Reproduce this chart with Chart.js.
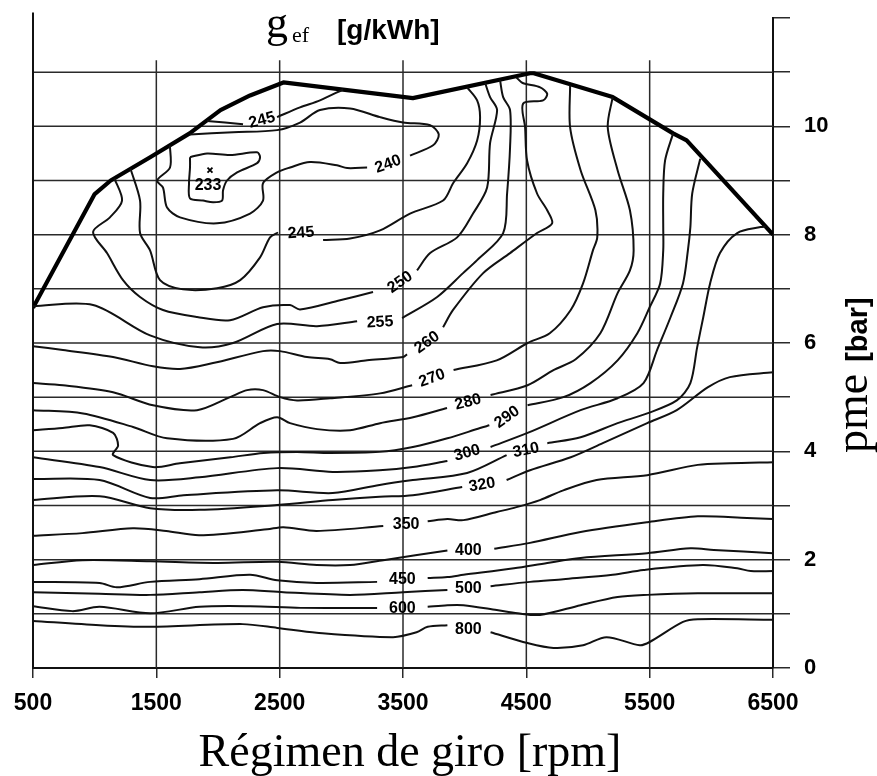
<!DOCTYPE html>
<html><head><meta charset="utf-8">
<script src="https://cdn.jsdelivr.net/npm/chart.js@4.4.1/dist/chart.umd.min.js"></script>
<style>html,body{margin:0;padding:0;background:#fff}#wrap{width:877px;height:776px;position:relative}</style>
</head><body><div id="wrap"><canvas id="c" width="877" height="776"></canvas></div>
<script>
// ---- axes ----
const rpmTicks = [500,1500,2500,3500,4500,5500,6500];
const pmeGrid = [1,2,3,4,5,6,7,8,9,10,11];
const pmeLabels = [0,2,4,6,8,10];

// ---- full-load curve (pme max) ----
const fullLoad = [[500,6.65],[1000,8.75],[1130,9.0],[1450,9.43],[1770,9.87],[2020,10.3],[2260,10.57],[2530,10.81],[3580,10.52],[4530,10.98],[4560,10.98],[5200,10.54],[5690,9.87],[5800,9.74],[6500,8.0]];

// ---- iso-consumption contours [rpm, pme], null = gap for label ----
const c800 = [[500,0.87],[1040,0.79],[1450,0.76],[2200,0.81],[2480,0.74],[2800,0.65],[3420,0.57],[3610,0.66],[3700,0.76],[3860,0.79],null,[4210,0.66],[4510,0.46],[4720,0.37],[4960,0.42],[5150,0.57],[5420,0.42],[5500,0.48],[5770,0.85],[5890,0.90],[6500,0.89]];
const c600 = [[500,1.14],[820,1.05],[1040,1.13],[1450,1.01],[1850,1.13],[2260,1.14],[2670,1.11],[3290,1.11],null,[3700,1.13],[3860,1.16],[3990,1.16],[4260,1.07],[4430,1.01],[4610,0.98],[4940,1.16],[5240,1.31],[5480,1.35],[5890,1.38],[6500,1.38]];
const c500 = [[500,1.40],[1040,1.37],[1450,1.35],[1850,1.40],[2200,1.44],[2530,1.40],[3070,1.35],[3500,1.40],[3860,1.44],null,[4210,1.51],[4530,1.59],[4800,1.64],[5200,1.72],[5450,1.81],[5930,1.90],[6210,1.84],[6320,1.79],[6500,1.79]];
const c450 = [[500,1.59],[1040,1.57],[1180,1.49],[1450,1.59],[1850,1.64],[2260,1.72],[2480,1.62],[2800,1.57],[3290,1.59],null,[3700,1.66],[3860,1.68],[3990,1.72],[4400,1.84],[4670,1.94],[4940,2.03],[5480,2.12],[5830,2.21],[6020,2.18],[6500,2.12]];
const c400 = [[500,1.90],[900,1.99],[1450,1.97],[1990,1.94],[2480,1.96],[2800,1.90],[3070,1.90],[3340,1.99],[3860,2.17],null,[4240,2.20],[4530,2.31],[4940,2.51],[5480,2.69],[5890,2.80],[6290,2.77],[6500,2.75]];
const c350 = [[500,2.44],[900,2.49],[1310,2.58],[1580,2.53],[1850,2.45],[2400,2.56],[2530,2.60],[2800,2.53],[3340,2.62],null,[3700,2.71],[3860,2.75],[3990,2.73],[4260,2.88],[4420,2.97],[4610,3.10],[4800,3.28],[5070,3.47],[5480,3.56],[5890,3.75],[6150,3.78],[6500,3.80]];
const c320 = [[500,3.10],[1040,3.17],[1450,2.95],[1850,2.92],[2480,3.01],[2930,3.10],[3310,3.16],[3580,3.19],[3980,3.34],null,[4340,3.47],[4530,3.65],[4860,3.89],[5120,4.15],[5480,4.52],[5720,4.76],[5970,5.18],[6150,5.37],[6500,5.46]];
const c310 = [[500,3.49],[1040,3.47],[1450,3.14],[1720,3.19],[2480,3.28],[2930,3.23],[3310,3.38],[3580,3.47],[4020,3.60],[4340,3.93],null,[4670,4.15],[4940,4.26],[5240,4.52],[5480,4.70],[5720,4.94],[5830,5.26],[5885,5.92],[5935,6.48],[5990,7.10],[6070,7.66],[6210,8.03],[6400,8.14],[6440,8.15]];
const c300 = [[500,3.89],[1040,3.71],[1450,3.47],[1850,3.52],[2480,3.69],[2930,3.62],[3310,3.65],[3580,3.71],[3860,3.82],null,[4210,4.08],[4510,4.34],[4940,4.76],[5240,4.98],[5450,5.26],[5560,5.87],[5670,6.48],[5770,7.10],[5810,7.71],[5830,8.14],[5845,8.76],[5910,9.40]];
const c290 = [[500,4.39],[740,4.43],[960,4.48],[1150,4.34],[1190,4.11],[1150,3.93],[1470,3.71],[1690,3.78],[2100,3.89],[2370,3.97],[2640,3.99],[2910,3.97],[3310,3.99],[3580,4.08],[3860,4.24],[4125,4.43],[4200,4.48],null,[4510,4.85],[4800,5.0],[5020,5.26],[5240,5.68],[5400,6.18],[5500,6.66],[5585,7.10],[5610,7.71],[5610,8.14],[5610,8.76],[5625,9.37],[5690,9.87]];
const c280 = [[500,4.76],[906,4.70],[1311,4.45],[1587,4.24],[2122,4.23],[2341,4.52],[2479,4.63],[2584,4.52],[2803,4.41],[3071,4.39],[3314,4.52],[3582,4.63],[3857,4.80],null,[4210,5.04],[4510,5.22],[4720,5.50],[4900,5.70],[5100,6.18],[5240,6.92],[5340,7.34],[5370,7.71],[5340,8.45],[5240,9.19],[5160,9.98],[5200,10.54]];
const c270 = [[500,5.26],[743,5.22],[1149,5.09],[1473,4.85],[1830,4.76],[2098,5.0],[2236,5.13],[2365,5.13],[2503,5.0],[2641,4.94],[2909,4.98],[3314,5.07],[3574,5.22],null,[3910,5.50],[4260,5.68],[4510,6.0],[4690,6.18],[4860,6.61],[4960,7.10],[5040,7.71],[5075,7.95],[5060,8.45],[4940,9.19],[4855,9.98],[4855,10.76]];
const c260 = [[500,5.94],[743,5.87],[1149,5.74],[1473,5.57],[1692,5.52],[1960,5.63],[2365,5.85],[2503,5.85],[2722,5.74],[2909,5.70],[2990,5.63],[3209,5.68],[3501,5.74],[3533,5.79],null,[3825,6.29],[3906,6.61],[4150,7.29],[4368,7.66],[4587,8.03],[4709,8.21],[4669,8.45],[4587,8.76],[4506,9.37],[4490,9.98],[4474,10.42],[4636,10.48],[4669,10.60],[4612,10.72],[4470,10.80],[4420,10.90]];
const c255 = [[500,6.68],[987,6.70],[1449,6.14],[1854,5.92],[2122,6.0],[2479,6.35],[2803,6.31],[3128,6.40],null,[3493,6.46],[3777,6.85],[3987,7.29],[4101,7.53],[4312,8.03],[4344,8.76],[4368,9.61],[4368,10.30],[4312,10.54],[4287,10.85]];
const c250 = [[1160,9.04],[1222,8.63],[1124,8.32],[987,8.05],[1100,7.66],[1230,7.16],[1368,6.85],[1554,6.61],[1830,6.48],[2098,6.42],[2365,6.66],[2584,6.70],[2665,6.62],[2990,6.79],[3257,6.94],null,[3614,7.34],[3720,7.66],[3939,7.95],[4068,8.39],[4182,8.87],[4206,9.69],[4263,10.30],[4206,10.54],[4166,10.80]];
const c245 = [[1290,9.22],[1368,8.63],[1368,8.03],[1449,7.71],[1530,7.16],[1717,6.99],[1992,7.01],[2180,7.16],[2341,7.58],[2422,7.95],[2487,8.04],null,[2852,7.90],[3071,7.93],[3314,8.08],[3557,8.39],[3825,8.63],[3906,8.95],[4020,9.32],[4101,9.74],[4125,10.17],[4101,10.48],[4020,10.72]];
const c245top = [[1911,10.1],[2203,10.04],null,[2479,10.17],[2665,10.35],[2827,10.48],[3014,10.68]];
const c240 = [[1610,9.65],[1611,9.24],[1506,9.0],[1554,8.87],[1587,8.5],[1692,8.32],[1992,8.21],[2260,8.39],[2365,8.63],[2365,8.95],[2479,9.15],[2584,9.24],[2746,9.34],[2965,9.28],[3047,9.23],[3209,9.24],null,[3557,9.46],[3744,9.65],[3790,9.85],[3720,10.02],[3501,10.07],[3314,10.17],[3071,10.33],[2827,10.30],[2665,10.07],[2479,9.93],[2122,9.89],[1773,9.85]];
const c233 = [[1773,9.43],[1911,9.50],[2098,9.47],[2317,9.52],[2341,9.43],[2317,9.32],[2155,9.15],[2073,9.0],[2041,8.82],[2033,8.63],[1960,8.60],[1879,8.63],[1773,8.67],[1765,8.95],[1773,9.24],[1773,9.43]];
const minPoint = [1935,9.19];

// ---- contour labels: [text, rpm, pme, angle(deg)] ----
const contourLabels = [
 ["800",4030,0.70,0],["600",3495,1.09,0],["500",4030,1.46,0],["450",3495,1.64,0],
 ["400",4030,2.16,0],["350",3525,2.64,0],["320",4141,3.38,-10],["310",4498,4.02,-12],
 ["300",4020,3.97,-15],["290",4344,4.63,-35],["280",4028,4.91,-15],["270",3736,5.35,-20],
 ["260",3695,6.01,-35],["255",3314,6.38,-3],["250",3476,7.12,-35],["245",2673,8.03,-4],
 ["240",3379,9.30,-20],["245",2357,10.11,-15],["233",1919,8.91,0]
];

const contours = [c800,c600,c500,c450,c400,c350,c320,c310,c300,c290,c280,c270,c260,c255,c250,c245,c245top,c240,c233];
const toXY = arr => arr.map(p => p ? {x:p[0], y:p[1]} : {x:null, y:null});

const SANS = '"Liberation Sans", Arial, Helvetica, sans-serif';
const SERIF = '"Liberation Serif", "Times New Roman", Times, serif';

const datasets = contours.map(c => ({
  data: toXY(c), showLine:true, borderColor:'#111', borderWidth:2,
  pointRadius:0, tension:0.3, spanGaps:false, fill:false
}));
datasets.push({data: toXY(fullLoad), showLine:true, borderColor:'#000', borderWidth:4.2, pointRadius:0, tension:0, borderJoinStyle:'round'});
datasets.push({data: [{x:minPoint[0], y:minPoint[1]}], showLine:false, pointStyle:'crossRot', pointRadius:3.5, borderColor:'#000', borderWidth:1.8});

const deco = {
  id:'deco',
  beforeDatasetsDraw(chart){
    const {ctx, scales:{x, y}} = chart;
    ctx.save();
    ctx.strokeStyle = '#2a2a2a'; ctx.lineWidth = 1.5;
    const xl = x.getPixelForValue(500), xr = x.getPixelForValue(6500);
    for (const p of pmeGrid){
      const py = y.getPixelForValue(p);
      ctx.beginPath(); ctx.moveTo(xl, py); ctx.lineTo(xr, py); ctx.stroke();
    }
    for (const r of rpmTicks.slice(1, -1)){
      const px = x.getPixelForValue(r);
      ctx.beginPath(); ctx.moveTo(px, y.getPixelForValue(0)); ctx.lineTo(px, y.getPixelForValue(11.22)); ctx.stroke();
    }
    ctx.lineWidth = 2; ctx.strokeStyle = '#111';
    ctx.beginPath(); ctx.moveTo(xl, y.getPixelForValue(0)); ctx.lineTo(xl, y.getPixelForValue(12.1)); ctx.stroke();
    ctx.restore();
  },
  afterDatasetsDraw(chart){
    const {ctx, scales:{x, y}} = chart;
    ctx.save();
    ctx.fillStyle = '#000';
    ctx.font = 'bold 16px ' + SANS;
    ctx.textAlign = 'center'; ctx.textBaseline = 'middle';
    for (const [t, r, p, a] of contourLabels){
      ctx.save();
      ctx.translate(x.getPixelForValue(r), y.getPixelForValue(p));
      ctx.rotate(a * Math.PI / 180);
      ctx.fillText(t, 0, 0);
      ctx.restore();
    }
    ctx.restore();
  },
  afterDraw(chart){
    const {ctx} = chart;
    ctx.save();
    ctx.fillStyle = '#000';
    ctx.textBaseline = 'alphabetic'; ctx.textAlign = 'left';
    // title g_ef [g/kWh]
    ctx.font = '44px ' + SERIF; ctx.fillText('g', 266, 37);
    ctx.font = '22px ' + SERIF; ctx.fillText('ef', 292, 42);
    ctx.font = 'bold 28px ' + SANS; ctx.fillText('[g/kWh]', 337, 39);
    // x title
    ctx.textAlign = 'center';
    ctx.font = '46px ' + SERIF; ctx.fillText('Régimen de giro [rpm]', 410, 766);
    // y title (rotated)
    ctx.translate(867, 453); ctx.rotate(-Math.PI / 2);
    ctx.textAlign = 'left';
    ctx.font = '46px ' + SERIF; ctx.fillText('pme', 0, 0);
    const w = ctx.measureText('pme').width;
    ctx.font = 'bold 29px ' + SANS; ctx.fillText('[bar]', w + 12, 0);
    ctx.restore();
  }
};

new Chart(document.getElementById('c'), {
  type:'scatter',
  data:{datasets},
  options:{
    responsive:false, animation:false, devicePixelRatio:1,
    layout:{padding:{left:33, top:18, right:0, bottom:0}},
    plugins:{legend:{display:false}, tooltip:{enabled:false}, title:{display:false}},
    scales:{
      x:{type:'linear', position:'bottom', min:500, max:6500,
        afterBuildTicks(s){ s.ticks = rpmTicks.map(v => ({value:v})); },
        ticks:{color:'#000', font:{family:SANS, size:23, weight:'bold'}, padding:12, maxRotation:0, autoSkip:false,
               callback:v => String(v)},
        grid:{drawOnChartArea:false, drawTicks:true, tickLength:10, color:'#2a2a2a', lineWidth:1.5},
        border:{display:true, color:'#111', width:2},
        afterFit(s){ s.height = 108; s.paddingLeft = 0; s.paddingRight = 0; }
      },
      y:{type:'linear', position:'right', min:0, max:12,
        ticks:{stepSize:1, color:'#000', font:{family:SANS, size:22, weight:'bold'}, padding:14, autoSkip:false,
               callback:v => pmeLabels.includes(v) ? String(v) : ''},
        grid:{drawOnChartArea:false, drawTicks:true, tickLength:17, color:'#2a2a2a', lineWidth:1.5},
        border:{display:true, color:'#111', width:2},
        afterFit(s){ s.width = 104; s.paddingTop = 0; s.paddingBottom = 0; }
      }
    }
  },
  plugins:[deco]
});
</script></body></html>
